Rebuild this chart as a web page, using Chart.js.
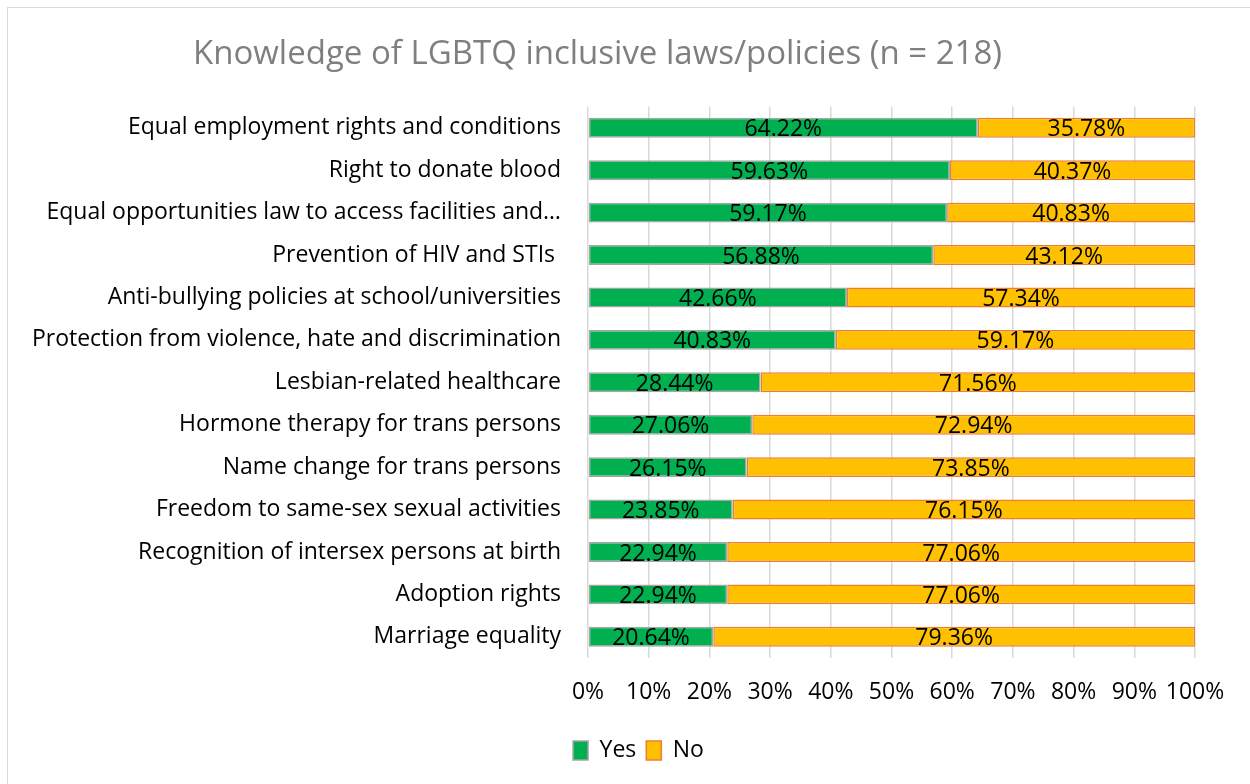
<!DOCTYPE html>
<html>
<head>
<meta charset="utf-8">
<title>Knowledge of LGBTQ inclusive laws/policies</title>
<script src="https://cdn.jsdelivr.net/npm/chart.js@4/dist/chart.umd.min.js"></script>
<style>
    html, body { margin: 0; padding: 0; background: #fff; overflow: hidden; }
    #wrap { position: relative; width: 1250px; height: 784px; }
    #frame { position: absolute; left: 7px; top: 7px; width: 1260px; height: 800px; border: 1.5px solid #d9d9d9; pointer-events: none; }
    canvas { position: absolute; left: 0; top: 0; }
</style>
</head>
<body>
<div id="wrap">
    <canvas id="chart" width="1250" height="784"></canvas>
    <div id="frame"></div>
</div>
<script>
// Survey answers, percent of respondents
const categories = [
    'Equal employment rights and conditions',
    'Right to donate blood',
    'Equal opportunities law to access facilities and\u2026',
    'Prevention of HIV and STIs ',
    'Anti-bullying policies at school/universities',
    'Protection from violence, hate and discrimination',
    'Lesbian-related healthcare',
    'Hormone therapy for trans persons',
    'Name change for trans persons',
    'Freedom to same-sex sexual activities',
    'Recognition of intersex persons at birth',
    'Adoption rights',
    'Marriage equality'
];
const yesValues = [64.22, 59.63, 59.17, 56.88, 42.66, 40.83, 28.44, 27.06, 26.15, 23.85, 22.94, 22.94, 20.64];
const noValues  = [35.78, 40.37, 40.83, 43.12, 57.34, 59.17, 71.56, 72.94, 73.85, 76.15, 77.06, 77.06, 79.36];
const xTicks = [0, 10, 20, 30, 40, 50, 60, 70, 80, 90, 100];

const FONT = "'Open Sans', sans-serif";
const TXT = 23;

// writes the percentage in the middle of every segment
const segmentLabels = {
    id: 'segmentLabels',
    afterDatasetsDraw(chart) {
        const ctx = chart.ctx;
        ctx.save();
        ctx.font = TXT + 'px ' + FONT;
        ctx.fillStyle = '#000';
        ctx.textAlign = 'center';
        ctx.textBaseline = 'middle';
        chart.data.datasets.forEach((ds, di) => {
            chart.getDatasetMeta(di).data.forEach((bar, i) => {
                const cx = (bar.base + bar.x) / 2;
                ctx.fillText(ds.data[i].toFixed(2) + '%', cx, bar.y + 2);
            });
        });
        ctx.restore();
    }
};

// nudge the legend a bit to the right of the canvas centre
const legendShift = {
    id: 'legendShift',
    afterLayout(chart) {
        chart.legend.left += 82;
    }
};

new Chart(document.getElementById('chart'), {
    type: 'bar',
    data: {
        labels: categories,
        datasets: [
            { label: 'Yes', data: yesValues, backgroundColor: '#00b050', borderColor: '#a5a5a5', borderWidth: 1.5, borderSkipped: false },
            { label: 'No', data: noValues, backgroundColor: '#ffc000', borderColor: '#ed7d31', borderWidth: 1.5, borderSkipped: false }
        ]
    },
    options: {
        indexAxis: 'y',
        responsive: false,
        animation: false,
        datasets: { bar: { barPercentage: 0.47, categoryPercentage: 1 } },
        layout: { padding: { left: 0, right: 55, top: 0, bottom: 12 } },
        plugins: {
            title: {
                display: true,
                text: 'Knowledge of LGBTQ inclusive laws/policies (n = 218)',
                color: '#7f7f7f',
                font: { family: FONT, size: 33, weight: 'normal' },
                padding: { top: 35, bottom: 32 }
            },
            legend: {
                position: 'bottom',
                labels: {
                    color: '#000',
                    font: { family: FONT, size: TXT },
                    boxWidth: 15,
                    boxHeight: 19,
                    padding: 10
                }
            },
            tooltip: { enabled: false }
        },
        scales: {
            x: {
                stacked: true,
                min: 0,
                max: 100,
                afterBuildTicks: axis => { axis.ticks = xTicks.map(v => ({ value: v })); },
                afterFit: axis => { axis.height = 71; },
                grid: { color: '#d9d9d9', lineWidth: 1.5, drawTicks: false },
                border: { display: false },
                ticks: {
                    color: '#000',
                    padding: 21,
                    autoSkip: false,
                    maxRotation: 0,
                    minRotation: 0,
                    font: { family: FONT, size: TXT },
                    callback: v => v + '%'
                }
            },
            y: {
                stacked: true,
                afterFit: axis => { axis.width = 588; },
                grid: { display: false, drawTicks: false },
                border: { display: false },
                ticks: {
                    color: '#000',
                    padding: 27,
                    autoSkip: false,
                    font: { family: FONT, size: TXT }
                }
            }
        }
    },
    plugins: [segmentLabels, legendShift]
});
</script>
</body>
</html>
